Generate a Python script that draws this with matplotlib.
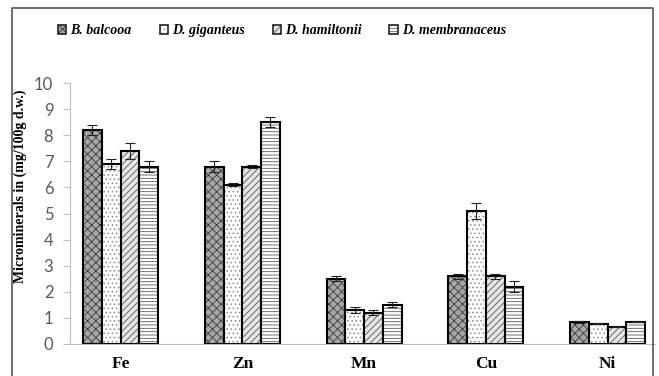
import matplotlib.pyplot as plt
import numpy as np
from matplotlib.patches import Patch
from matplotlib.lines import Line2D
from matplotlib.legend_handler import HandlerTuple

minerals = ['Fe', 'Zn', 'Mn', 'Cu', 'Ni']
species = ['B. balcooa', 'D. giganteus', 'D. hamiltonii', 'D. membranaceus']

balcooa = [8.2, 6.8, 2.5, 2.6, 0.85]
giganteus = [6.9, 6.1, 1.3, 5.1, 0.78]
hamiltonii = [7.4, 6.8, 1.2, 2.6, 0.67]
membranaceus = [6.8, 8.5, 1.5, 2.2, 0.86]

balcooa_err = [0.2, 0.2, 0.1, 0.1, 0.03]
giganteus_err = [0.2, 0.05, 0.1, 0.3, 0.02]
hamiltonii_err = [0.3, 0.05, 0.1, 0.1, 0.03]
membranaceus_err = [0.2, 0.2, 0.1, 0.2, 0.03]

values = [balcooa, giganteus, hamiltonii, membranaceus]
errors = [balcooa_err, giganteus_err, hamiltonii_err, membranaceus_err]

# hatch style per species: (facecolor, hatch colour, hatch)
styles = [('#a8a8a8', '#3a3a3a', 'xxxx'),
          ('white', '#8a8a8a', '....'),
          ('#e6e6e6', '#555555', '/////'),
          ('white', '#5a5a5a', '-----')]

plt.rcParams['hatch.linewidth'] = 0.6

fig = plt.figure(figsize=(6.59, 3.76), dpi=100)
ax = fig.add_axes([70 / 659, 32 / 376, 585 / 659, 261 / 376])

x = np.arange(len(minerals))
w = 0.154
for i in range(4):
    pos = x + (i - 1.5) * w
    fc, hc, h = styles[i]
    ax.bar(pos, values[i], w, color=fc, edgecolor=hc, hatch=h, linewidth=0)
    ax.bar(pos, values[i], w, fill=False, edgecolor='black', linewidth=1.5)
    ax.errorbar(pos, values[i], yerr=errors[i], fmt='none', ecolor='#222222',
                elinewidth=0.8, capsize=3.5, capthick=0.8)

ax.set_xlim(-0.415, 4.39)
ax.set_ylim(0, 10)
ax.set_yticks(range(0, 11))
ax.set_xticks(x)
ax.set_xticklabels(minerals, family='Liberation Serif', fontweight='bold', fontsize=12.5)
for t in ax.get_yticklabels():
    t.set_family('Lato')
    t.set_fontsize(12)
    t.set_color('#595959')
ax.tick_params(axis='x', length=0, pad=9)
ax.tick_params(axis='y', length=5, color='#bfbfbf', pad=7)
for s in ['top', 'right']:
    ax.spines[s].set_visible(False)
ax.spines['left'].set_color('#bfbfbf')
ax.spines['bottom'].set_color('#bfbfbf')
ax.set_ylabel('Microminerals in (mg/100g d.w.)', family='Liberation Serif',
              fontweight='bold', fontsize=10)
ax.yaxis.set_label_coords(-0.0735, 0.605)

handles = [(Patch(facecolor=s[0], edgecolor=s[1], hatch=s[2], linewidth=0),
            Patch(fill=False, edgecolor='#222222', linewidth=1.2)) for s in styles]
leg = fig.legend(handles, species, loc='center', bbox_to_anchor=(0.428, 0.918), ncol=4,
                 frameon=False, handlelength=0.6, handleheight=0.6, handletextpad=0.3,
                 columnspacing=2.0, handler_map={tuple: HandlerTuple(ndivide=1)},
                 prop={'family': 'Liberation Serif', 'weight': 'bold', 'style': 'italic', 'size': 10})

# outer frame (left, top, right)
fig.add_artist(Line2D([12 / 659, 12 / 659, 653 / 659, 653 / 659],
                      [0, 1 - 8 / 376, 1 - 8 / 376, 0],
                      transform=fig.transFigure, color='#555555', linewidth=1.2))

fig.savefig('out.png', dpi=100)
